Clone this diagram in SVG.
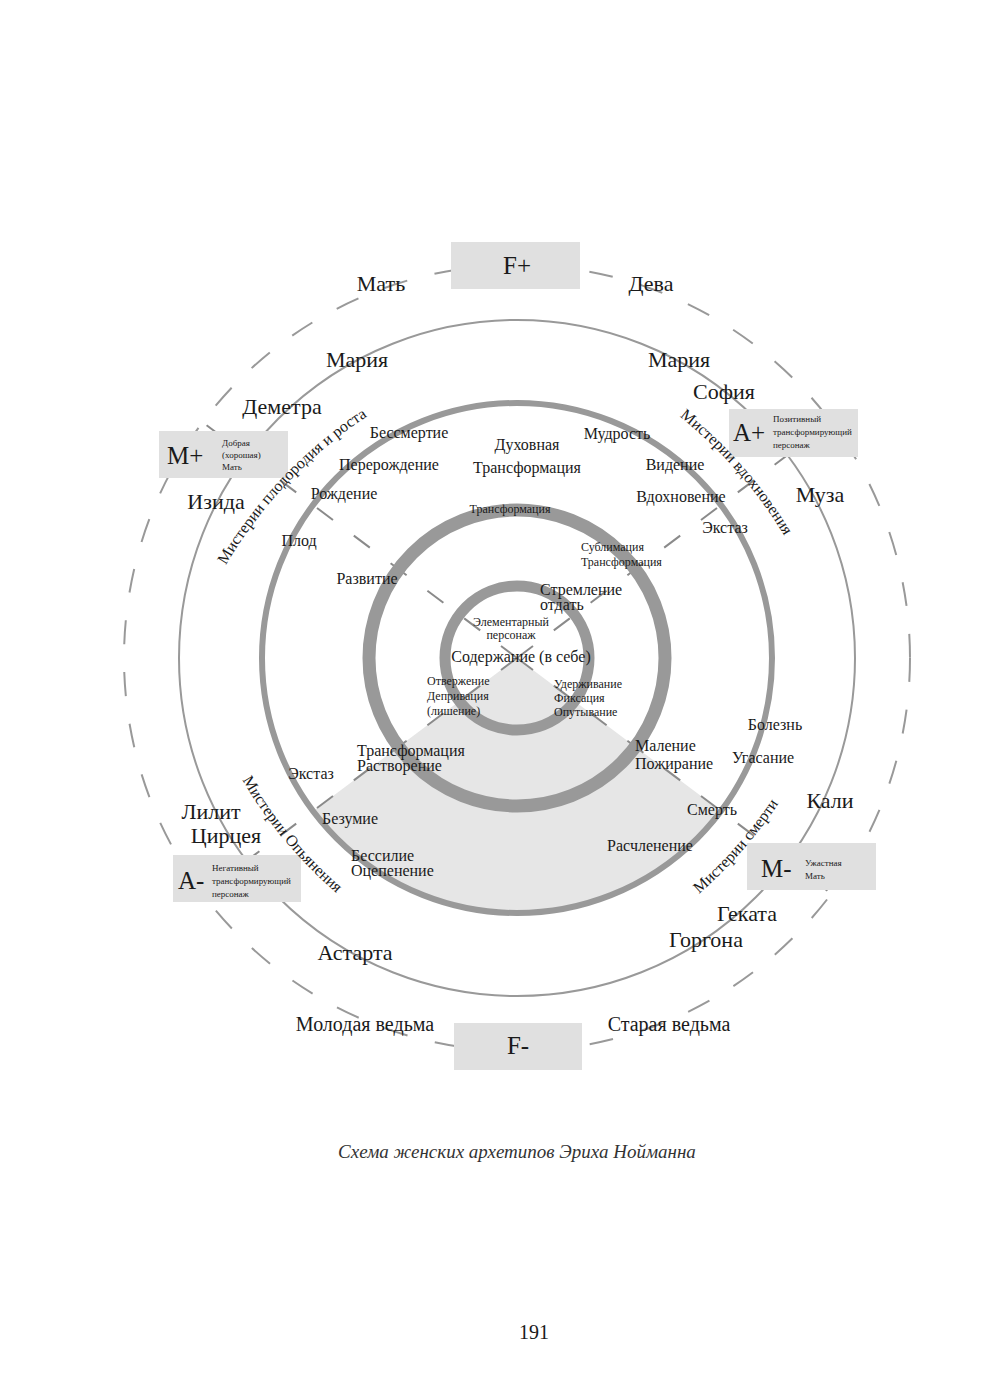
<svg xmlns="http://www.w3.org/2000/svg" width="1000" height="1400" viewBox="0 0 1000 1400">
<style>
text{font-family:"Liberation Serif","DejaVu Serif",serif;fill:#1a1a1a}
.b{font-size:22px}.m{font-size:16px}.s{font-size:12px}.t{font-size:9px}.k{font-size:25px}
.c{text-anchor:middle}
.box{fill:#e0e0e0}
.ring{fill:none;stroke:#999}
.dash{stroke:#8a8a8a;stroke-width:2;stroke-dasharray:20 26;fill:none}
</style>
<defs>
<path id="p1" d="M 222 572 A 450 450 0 0 1 374 412"/>
<path id="p2" d="M 674 412 A 450 450 0 0 1 788 542"/>
<path id="p3" d="M 240 776 A 450 450 0 0 0 340 896"/>
<path id="p4" d="M 694 898 A 450 450 0 0 0 782 798"/>
</defs>
<rect width="1000" height="1400" fill="#fff"/>
<g id="wedge"><path d="M517 658 L313 811 A255 255 0 0 0 721 811 Z" fill="#e6e6e6"/></g>
<g id="connectors">
<line class="dash" x1="517" y1="658" x2="205" y2="424"/>
<line class="dash" x1="517" y1="658" x2="829" y2="424"/>
<line class="dash" x1="517" y1="658" x2="205" y2="892"/>
<line class="dash" x1="517" y1="658" x2="829" y2="892"/>
</g>
<g id="rings">
<circle class="ring" cx="517" cy="658" r="393" stroke="#8a8a8a" stroke-width="2" stroke-dasharray="24 28"/>
<circle class="ring" cx="517" cy="658" r="338" stroke-width="2"/>
<circle class="ring" cx="517" cy="658" r="255" stroke-width="6"/>
<circle class="ring" cx="517" cy="658" r="148" stroke-width="13"/>
<circle class="ring" cx="517" cy="658" r="72" stroke-width="11"/>
</g>
<g id="Fplus"><rect class="box" x="451" y="242" width="129" height="47"/><text class="k c" x="517" y="274">F+</text></g>
<g id="Fminus"><rect class="box" x="454" y="1023" width="128" height="47"/><text class="k c" x="518" y="1054">F-</text></g>
<g id="Mplus"><rect class="box" x="159" y="431" width="129" height="47"/><text class="k" x="167" y="464">M+</text>
<text class="t" x="222" y="446">Добрая</text><text class="t" x="222" y="458">(хорошая)</text><text class="t" x="222" y="470">Мать</text></g>
<g id="Aplus"><rect class="box" x="729" y="409" width="129" height="48"/><text class="k" x="733" y="441">A+</text>
<text class="t" x="773" y="422">Позитивный</text><text class="t" x="773" y="435">трансформирующий</text><text class="t" x="773" y="448">персонаж</text></g>
<g id="Mminus"><rect class="box" x="747" y="843" width="129" height="47"/><text class="k" x="761" y="877">M-</text>
<text class="t" x="805" y="866">Ужастная</text><text class="t" x="805" y="879">Мать</text></g>
<g id="Aminus"><rect class="box" x="173" y="855" width="128" height="47"/><text class="k" x="178" y="889">A-</text>
<text class="t" x="212" y="871">Негативный</text><text class="t" x="212" y="884">трансформирующий</text><text class="t" x="212" y="897">персонаж</text></g>
<g id="arcs">
<text class="m"><textPath href="#p1" startOffset="50%" text-anchor="middle">Мистерии плодородия и роста</textPath></text>
<text class="m"><textPath href="#p2" startOffset="50%" text-anchor="middle">Мистерии вдохновения</textPath></text>
<text class="m"><textPath href="#p3" startOffset="50%" text-anchor="middle">Мистерии Опьянения</textPath></text>
<text class="m"><textPath href="#p4" startOffset="50%" text-anchor="middle">Мистерии смерти</textPath></text>
</g>
<g id="labels">
<text class="b c" x="381" y="291">Мать</text>
<text class="b c" x="651" y="291">Дева</text>
<text class="b c" x="357" y="367">Мария</text>
<text class="b c" x="679" y="367">Мария</text>
<text class="b c" x="724" y="399">София</text>
<text class="b c" x="282" y="414">Деметра</text>
<text class="b c" x="216" y="509">Изида</text>
<text class="b c" x="820" y="502">Муза</text>
<text class="m c" x="409" y="438">Бессмертие</text>
<text class="m c" x="389" y="470">Перерождение</text>
<text class="m c" x="344" y="499">Рождение</text>
<text class="m c" x="299" y="546">Плод</text>
<text class="m c" x="367" y="584">Развитие</text>
<text class="m c" x="527" y="450">Духовная</text>
<text class="m c" x="527" y="473">Трансформация</text>
<text class="m c" x="617" y="439">Мудрость</text>
<text class="m c" x="675" y="470">Видение</text>
<text class="m c" x="681" y="502">Вдохновение</text>
<text class="m c" x="725" y="533">Экстаз</text>
<text class="s c" x="510" y="513">Трансформация</text>
<text class="s" x="581" y="551">Сублимация</text>
<text class="s" x="581" y="566">Трансформация</text>
<text class="m" x="540" y="595">Стремление</text>
<text class="m" x="540" y="610">отдать</text>
<text class="s c" x="511" y="626">Элементарный</text>
<text class="s c" x="511" y="639">персонаж</text>
<text class="m c" x="521" y="662">Содержание (в себе)</text>
<text class="s" x="427" y="685">Отвержение</text>
<text class="s" x="427" y="700">Депривация</text>
<text class="s" x="427" y="715">(лишение)</text>
<text class="s" x="554" y="688">Удерживание</text>
<text class="s" x="554" y="702">Фиксация</text>
<text class="s" x="554" y="716">Опутывание</text>
<text class="m" x="357" y="756">Трансформация</text>
<text class="m" x="357" y="771">Растворение</text>
<text class="m c" x="311" y="779">Экстаз</text>
<text class="m" x="635" y="751">Маление</text>
<text class="m" x="635" y="769">Пожирание</text>
<text class="m c" x="775" y="730">Болезнь</text>
<text class="m c" x="763" y="763">Угасание</text>
<text class="m c" x="712" y="815">Смерть</text>
<text class="m c" x="650" y="851">Расчленение</text>
<text class="m c" x="350" y="824">Безумие</text>
<text class="m" x="351" y="861">Бессилие</text>
<text class="m" x="351" y="876">Оцепенение</text>
<text class="b c" x="830" y="808">Кали</text>
<text class="b c" x="211" y="819">Лилит</text>
<text class="b c" x="226" y="843">Цирцея</text>
<text class="b c" x="747" y="921">Геката</text>
<text class="b c" x="706" y="947">Горгона</text>
<text class="b c" x="355" y="960">Астарта</text>
<text class="b c" x="365" y="1031" style="font-size:20px">Молодая ведьма</text>
<text class="b c" x="669" y="1031" style="font-size:20px">Старая ведьма</text>
</g>
<text class="c" x="517" y="1158" style="font-size:19px;font-style:italic;fill:#333">Схема женских архетипов Эриха Нойманна</text>
<text class="c" x="534" y="1339" style="font-size:20px">191</text>
</svg>
